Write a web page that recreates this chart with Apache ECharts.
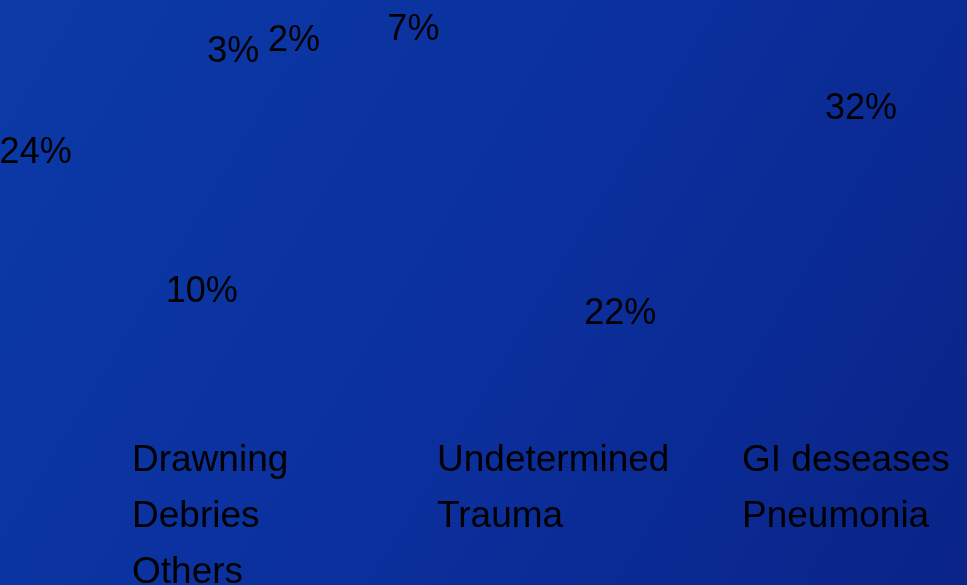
<!DOCTYPE html>
<html>
<head>
<meta charset="utf-8">
<script src="https://cdn.jsdelivr.net/npm/echarts@6/dist/echarts.min.js"></script>
<style>
  html, body { margin: 0; padding: 0; }
  #chart { width: 967px; height: 585px; }
</style>
</head>
<body>
<div id="chart"></div>
<script>
  // causes and their share (%)
  const causes = ['Drawning', 'Undetermined', 'GI deseases', 'Debries', 'Trauma', 'Pneumonia', 'Others'];
  const shares = [7, 32, 22, 10, 24, 3, 2];

  const cx = 470, cy = 176;
  // the original is a tilted 3d pie, so labels sit on a wide ellipse
  const stretchX = 2.99;

  const chart = echarts.init(document.getElementById('chart'));
  const option = {
    backgroundColor: {
      type: 'linear', x: 0, y: 0, x2: 1, y2: 1,
      colorStops: [
        { offset: 0, color: '#0b3aa6' },
        { offset: 0.5, color: '#0b309e' },
        { offset: 1, color: '#0a2488' }
      ]
    },
    animation: false,
    legend: {
      left: 112,
      top: 428,
      width: 930,
      itemGap: 0,
      itemWidth: 10,
      itemHeight: 10,
      icon: 'rect',
      itemStyle: { opacity: 0 },
      textStyle: {
        color: '#000',
        fontFamily: 'Liberation Sans',
        fontSize: 37,
        width: 290,
        lineHeight: 56
      },
      data: causes
    },
    series: [{
      type: 'pie',
      center: [cx, cy],
      radius: 288,
      startAngle: 110,
      clockwise: true,
      silent: true,
      itemStyle: { color: 'rgba(0,0,0,0)' },
      label: {
        position: 'inside',
        formatter: '{c}%',
        color: '#000',
        fontFamily: 'Liberation Sans',
        fontSize: 36
      },
      labelLine: { show: false },
      labelLayout(params) {
        const r = params.labelRect;
        const mx = r.x + r.width / 2;
        const my = r.y + r.height / 2;
        return {
          x: cx + (mx - cx) * stretchX,
          y: my,
          align: 'center',
          verticalAlign: 'middle'
        };
      },
      data: causes.map((name, i) => ({ name: name, value: shares[i] }))
    }]
  };
  chart.setOption(option);
</script>
</body>
</html>
